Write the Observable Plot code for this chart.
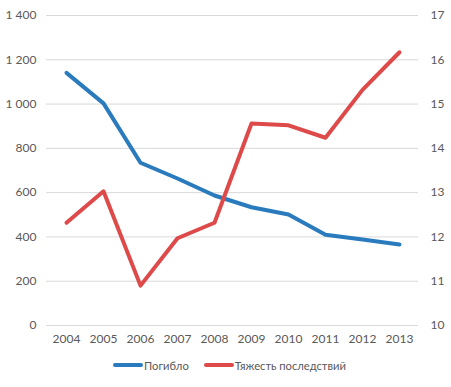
<!DOCTYPE html>
<html><head><meta charset="utf-8">
<script src="https://cdn.jsdelivr.net/npm/d3@7"></script>
<script src="https://cdn.jsdelivr.net/npm/@observablehq/plot@0.6"></script>
<style>
body{margin:0;background:#fff;font-family:Lato,"Open Sans",sans-serif;}
#legend{display:flex;justify-content:flex-start;align-items:center;height:30px;font-size:11.2px;color:#595959;padding-left:113px;}
.item{display:flex;align-items:center;margin-right:15px;}
.sw{width:30px;height:4px;border-radius:2px;margin-right:1px;}
</style></head><body>
<div id="chart"></div>
<div id="legend"></div>
<script>
const years = ["2004","2005","2006","2007","2008","2009","2010","2011","2012","2013"];
const killed = [1141,1003,735,664,587,534,501,410,388,366];
const severity = [12.32,13.03,10.90,11.97,12.32,14.56,14.52,14.24,15.32,16.17];
const leftTicks = [0,200,400,600,800,1000,1200,1400];
const rightTicks = [10,11,12,13,14,15,16,17];
const seriesNames = ["Погибло","Тяжесть последствий"];
const colors = ["#2A7BBD","#DE4A4A"];

const toLeft = v => (v - 10) * 200;
const fmt = d => d3.format(",")(d).replace(/,/g, " ");

const dKilled = years.map((y,i)=>({year:y, value:killed[i]}));
const dSev = years.map((y,i)=>({year:y, value:toLeft(severity[i])}));

const chart = Plot.plot({
  width:451, height:350,
  marginLeft:46, marginRight:33, marginTop:15, marginBottom:25,
  style:{fontFamily:"Lato, 'Open Sans', sans-serif", fontSize:"12px", color:"#595959", background:"#fff"},
  x:{type:"point", domain:years, padding:0.5},
  y:{domain:[0,1400]},
  marks:[
    Plot.ruleY(leftTicks,{stroke:"#d9d9d9", strokeWidth:1}),
    Plot.axisX({tickSize:0, tickPadding:9, label:null, fontSize:12}),
    Plot.axisY({ticks:leftTicks, tickSize:0, tickPadding:10, tickFormat:fmt, label:null, anchor:"left"}),
    Plot.axisY({ticks:rightTicks.map(toLeft), tickSize:0, tickPadding:12, tickFormat:d=>String(d/200+10), label:null, anchor:"right", textAnchor:"start"}),
    Plot.line(dKilled,{x:"year", y:"value", stroke:colors[0], strokeWidth:4, strokeLinejoin:"round", strokeLinecap:"round"}),
    Plot.line(dSev,{x:"year", y:"value", stroke:colors[1], strokeWidth:4, strokeLinejoin:"round", strokeLinecap:"round"})
  ]
});
document.getElementById("chart").appendChild(chart);

const lg = document.getElementById("legend");
seriesNames.forEach((n,i)=>{
  const it=document.createElement("div"); it.className="item";
  const sw=document.createElement("div"); sw.className="sw"; sw.style.background=colors[i];
  const t=document.createElement("span"); t.textContent=n;
  it.appendChild(sw); it.appendChild(t); lg.appendChild(it);
});
</script>
</body></html>
